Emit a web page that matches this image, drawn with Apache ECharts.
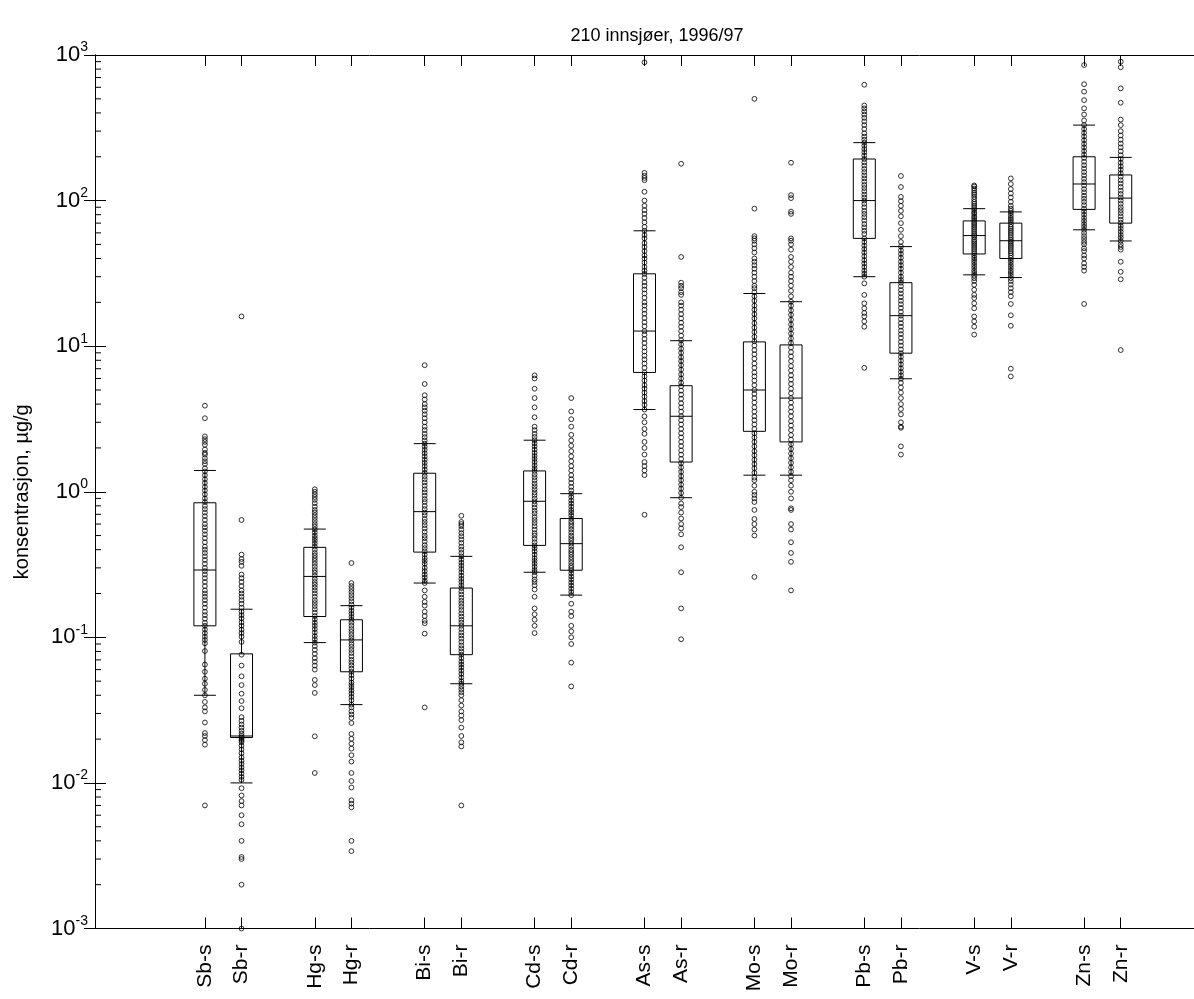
<!DOCTYPE html>
<html>
<head>
<meta charset="utf-8">
<script src="https://cdn.jsdelivr.net/npm/echarts@6/dist/echarts.min.js"></script>
<style>
html, body { margin: 0; padding: 0; background: #fff; }
#container { width: 1194px; height: 999px; }
</style>
</head>
<body>
<div id="container"></div>
<script>
// categories and their positions on the x axis
var names = ['Sb-s', 'Sb-r', 'Hg-s', 'Hg-r', 'Bi-s', 'Bi-r', 'Cd-s', 'Cd-r', 'As-s', 'As-r',
	'Mo-s', 'Mo-r', 'Pb-s', 'Pb-r', 'V-s', 'V-r', 'Zn-s', 'Zn-r'];
var xPos = [3, 4, 6, 7, 9, 10, 12, 13, 15, 16, 18, 19, 21, 22, 24, 25, 27, 28];

// box stats: [lower whisker, Q1, median, Q3, upper whisker]
var boxStats = [
	[0.04, 0.12, 0.29, 0.84, 1.4],
	[0.01, 0.0205, 0.021, 0.077, 0.156],
	[0.092, 0.139, 0.262, 0.415, 0.554],
	[0.0345, 0.058, 0.096, 0.132, 0.165],
	[0.236, 0.385, 0.73, 1.34, 2.14],
	[0.048, 0.076, 0.12, 0.218, 0.36],
	[0.28, 0.428, 0.86, 1.39, 2.26],
	[0.195, 0.289, 0.44, 0.655, 0.97],
	[3.67, 6.6, 12.7, 31.4, 62],
	[0.91, 1.6, 3.3, 5.35, 10.9],
	[1.3, 2.6, 5.0, 10.7, 23],
	[1.3, 2.2, 4.4, 10.2, 20.2],
	[30, 55, 100, 193, 250],
	[5.97, 8.95, 16.2, 27.3, 48.3],
	[30.9, 43, 57.5, 72.5, 88],
	[29.6, 40, 53, 70, 83.6],
	[63, 87, 130, 200, 330],
	[52.8, 70, 104, 150, 198]
];

// individual lake values
var sbS = [3.9, 3.2, 2.4, 2.3, 2.2, 2.1, 1.95, 1.85, 1.8, 1.7, 1.62, 1.55, 1.45, 1.38, 1.3, 1.22, 1.15, 1.08, 1.02, 0.96, 0.9, 0.85, 0.8, 0.76, 0.72, 0.68, 0.64, 0.6, 0.57, 0.54, 0.51, 0.48, 0.45, 0.42, 0.4, 0.38, 0.36, 0.34, 0.32, 0.3, 0.285, 0.27, 0.255, 0.24, 0.225, 0.21, 0.2, 0.19, 0.18, 0.17, 0.16, 0.15, 0.142, 0.134, 0.126, 0.12, 0.113, 0.107, 0.101, 0.096, 0.091, 0.0805, 0.065, 0.058, 0.052, 0.048, 0.0435, 0.04, 0.036, 0.033, 0.031, 0.026, 0.022, 0.021, 0.0197, 0.0183, 0.007];
var sbR = [16, 0.64, 0.37, 0.345, 0.33, 0.31, 0.27, 0.255, 0.24, 0.225, 0.21, 0.2, 0.19, 0.18, 0.17, 0.16, 0.15, 0.142, 0.135, 0.127, 0.12, 0.113, 0.107, 0.101, 0.093, 0.076, 0.064, 0.054, 0.047, 0.041, 0.0365, 0.0326, 0.0283, 0.0267, 0.0252, 0.024, 0.0228, 0.0218, 0.021, 0.0205, 0.02, 0.0195, 0.019, 0.018, 0.017, 0.016, 0.015, 0.0142, 0.0135, 0.0128, 0.0122, 0.0116, 0.011, 0.0105, 0.0092, 0.0082, 0.0075, 0.007, 0.006, 0.0052, 0.004, 0.003, 0.0031, 0.002, 0.001];
var hgS = [1.04, 1.0, 0.96, 0.92, 0.88, 0.835, 0.79, 0.75, 0.72, 0.69, 0.66, 0.63, 0.6, 0.575, 0.55, 0.525, 0.5, 0.48, 0.46, 0.44, 0.42, 0.4, 0.38, 0.365, 0.35, 0.335, 0.32, 0.305, 0.29, 0.278, 0.265, 0.252, 0.24, 0.23, 0.22, 0.21, 0.2, 0.19, 0.18, 0.172, 0.164, 0.156, 0.148, 0.14, 0.133, 0.126, 0.12, 0.114, 0.108, 0.102, 0.097, 0.092, 0.087, 0.082, 0.077, 0.072, 0.068, 0.064, 0.06, 0.051, 0.047, 0.0415, 0.0209, 0.0117];
var hgR = [0.324, 0.236, 0.225, 0.215, 0.205, 0.195, 0.186, 0.177, 0.168, 0.16, 0.152, 0.145, 0.138, 0.132, 0.126, 0.12, 0.114, 0.109, 0.104, 0.099, 0.095, 0.09, 0.086, 0.082, 0.078, 0.074, 0.07, 0.067, 0.064, 0.061, 0.058, 0.055, 0.052, 0.049, 0.047, 0.045, 0.043, 0.041, 0.039, 0.037, 0.0345, 0.033, 0.031, 0.0295, 0.028, 0.0258, 0.0217, 0.0201, 0.0186, 0.0172, 0.0155, 0.014, 0.0117, 0.0103, 0.0093, 0.0076, 0.0072, 0.0068, 0.004, 0.0034];
var biS = [7.4, 5.5, 4.6, 4.3, 4.0, 3.8, 3.6, 3.4, 3.2, 3.0, 2.8, 2.65, 2.5, 2.37, 2.25, 2.14, 2.04, 1.94, 1.84, 1.75, 1.66, 1.58, 1.5, 1.42, 1.35, 1.28, 1.22, 1.16, 1.1, 1.04, 0.99, 0.94, 0.89, 0.85, 0.8, 0.76, 0.72, 0.69, 0.65, 0.62, 0.59, 0.56, 0.53, 0.5, 0.48, 0.455, 0.43, 0.41, 0.39, 0.37, 0.35, 0.335, 0.32, 0.3, 0.285, 0.27, 0.258, 0.245, 0.236, 0.21, 0.19, 0.175, 0.165, 0.15, 0.14, 0.13, 0.125, 0.106, 0.033];
var biR = [0.684, 0.62, 0.6, 0.58, 0.55, 0.52, 0.495, 0.47, 0.445, 0.42, 0.4, 0.38, 0.36, 0.342, 0.325, 0.31, 0.295, 0.28, 0.265, 0.252, 0.24, 0.228, 0.218, 0.207, 0.197, 0.187, 0.178, 0.17, 0.162, 0.154, 0.146, 0.139, 0.132, 0.126, 0.12, 0.114, 0.108, 0.103, 0.098, 0.093, 0.088, 0.084, 0.08, 0.076, 0.072, 0.068, 0.065, 0.062, 0.059, 0.056, 0.053, 0.05, 0.048, 0.046, 0.044, 0.042, 0.04, 0.037, 0.034, 0.031, 0.029, 0.027, 0.024, 0.021, 0.019, 0.0178, 0.007];
var cdS = [6.3, 6.0, 5.1, 4.4, 3.8, 3.25, 2.8, 2.65, 2.5, 2.38, 2.26, 2.15, 2.05, 1.95, 1.85, 1.76, 1.68, 1.6, 1.52, 1.45, 1.39, 1.32, 1.26, 1.2, 1.14, 1.09, 1.04, 0.99, 0.95, 0.9, 0.86, 0.82, 0.78, 0.74, 0.71, 0.67, 0.64, 0.61, 0.58, 0.55, 0.52, 0.5, 0.475, 0.45, 0.428, 0.41, 0.39, 0.37, 0.35, 0.335, 0.32, 0.305, 0.29, 0.28, 0.265, 0.25, 0.24, 0.228, 0.213, 0.19, 0.158, 0.144, 0.132, 0.12, 0.107];
var cdR = [4.4, 3.56, 3.15, 2.8, 2.46, 2.25, 2.07, 1.9, 1.75, 1.62, 1.5, 1.4, 1.3, 1.22, 1.15, 1.08, 1.02, 0.97, 0.92, 0.87, 0.83, 0.79, 0.75, 0.72, 0.69, 0.655, 0.625, 0.6, 0.575, 0.55, 0.525, 0.5, 0.48, 0.46, 0.44, 0.42, 0.4, 0.385, 0.37, 0.355, 0.34, 0.325, 0.31, 0.3, 0.289, 0.275, 0.262, 0.25, 0.238, 0.227, 0.216, 0.205, 0.195, 0.17, 0.15, 0.14, 0.12, 0.11, 0.1, 0.09, 0.067, 0.046];
var asS = [891, 155, 148, 143, 138, 115, 100, 92, 86, 81, 76, 71, 66, 62, 58, 55, 51, 48, 45, 42, 40, 37.5, 35, 33, 31.4, 29.5, 27.5, 26, 24.5, 23, 21.5, 20, 19, 17.8, 16.7, 15.6, 14.6, 13.7, 12.7, 12, 11.2, 10.5, 9.8, 9.2, 8.6, 8.1, 7.6, 7.1, 6.6, 6.2, 5.8, 5.4, 5.1, 4.8, 4.5, 4.2, 3.95, 3.67, 3.3, 3.0, 2.7, 2.5, 2.2, 2.0, 1.8, 1.6, 1.5, 1.4, 1.3, 0.695];
var asR = [179, 41, 27.3, 26, 25, 23.5, 22.5, 20, 19, 17.8, 16.6, 15.5, 14.5, 13.6, 12.7, 11.8, 11, 10.3, 9.6, 9, 8.4, 7.9, 7.4, 6.9, 6.4, 6, 5.6, 5.3, 4.95, 4.65, 4.35, 4.05, 3.8, 3.55, 3.3, 3.1, 2.9, 2.7, 2.52, 2.36, 2.2, 2.06, 1.92, 1.8, 1.68, 1.57, 1.47, 1.37, 1.28, 1.2, 1.12, 1.05, 0.98, 0.91, 0.83, 0.785, 0.72, 0.655, 0.6, 0.56, 0.51, 0.416, 0.28, 0.158, 0.097];
var moS = [500, 88, 57, 55, 53, 50, 47, 44, 40, 38, 36, 34, 32, 30, 28, 26, 25, 23.5, 22, 20.5, 19, 17.8, 16.6, 15.5, 14.4, 13.4, 12.5, 11.6, 10.8, 10.1, 9.4, 8.8, 8.2, 7.6, 7.1, 6.6, 6.2, 5.8, 5.4, 5, 4.7, 4.4, 4.1, 3.8, 3.55, 3.3, 3.1, 2.9, 2.7, 2.52, 2.36, 2.2, 2.05, 1.9, 1.78, 1.66, 1.55, 1.45, 1.35, 1.25, 1.2, 1.1, 1.0, 0.95, 0.9, 0.85, 0.75, 0.65, 0.6, 0.55, 0.5, 0.26];
var moR = [182, 109, 104, 84, 81, 55, 53, 50, 46, 41, 38, 35, 32, 30, 28, 26, 24, 22, 20.2, 19, 17.6, 16.4, 15.2, 14.1, 13.1, 12.2, 11.3, 10.5, 9.8, 9.1, 8.5, 7.9, 7.3, 6.8, 6.3, 5.9, 5.5, 5.1, 4.75, 4.4, 4.1, 3.8, 3.55, 3.3, 3.05, 2.85, 2.65, 2.45, 2.28, 2.12, 1.97, 1.83, 1.7, 1.58, 1.47, 1.37, 1.28, 1.2, 1.1, 1.0, 0.9, 0.77, 0.75, 0.6, 0.55, 0.45, 0.38, 0.33, 0.21];
var pbS = [625, 450, 430, 410, 390, 370, 350, 330, 310, 290, 275, 262, 250, 238, 226, 215, 204, 193, 183, 174, 165, 157, 149, 142, 135, 128, 122, 116, 110, 105, 100, 95, 90, 85, 81, 77, 73, 69, 65.5, 62, 59, 55, 52, 49, 46.5, 44, 41.5, 39, 37, 35, 33, 31.5, 30, 27, 22.5, 19.7, 18.2, 16.9, 16, 14.8, 13.6, 7.1];
var pbR = [147.6, 124, 106, 99, 92, 85, 78, 70, 63, 57, 52, 48.3, 45.5, 43, 40.5, 38, 36, 34, 32, 30, 28.5, 27.3, 25.8, 24.3, 23, 21.7, 20.5, 19.4, 18.3, 17.2, 16.2, 15.3, 14.4, 13.6, 12.8, 12.1, 11.4, 10.7, 10.1, 9.5, 8.95, 8.45, 7.95, 7.5, 7.05, 6.65, 6.3, 5.97, 5.6, 5.2, 4.8, 4.4, 4.0, 3.7, 3.4, 3.0, 2.8, 2.75, 2.05, 1.8];
var vS = [127, 125, 121, 117, 113, 110, 106, 102, 98, 95, 92, 89, 86, 83, 81, 78, 76, 73.5, 71, 69, 67, 65, 63, 61, 59, 57.5, 56, 54, 52.5, 51, 49.5, 48, 46.5, 45, 43.5, 42, 40.5, 39, 37.5, 36, 34.5, 33, 31.8, 30.5, 29.3, 28, 26.4, 24.4, 22.5, 21.4, 19.7, 18.2, 16, 14.8, 13.6, 12];
var vR = [142, 130, 120, 112, 105, 98, 92, 88, 85, 82, 79, 76, 73.5, 71, 68.5, 66, 64, 62, 60, 58, 56, 54, 52.5, 51, 49.5, 48, 46.5, 45, 43.5, 42, 40.5, 39, 37.5, 36, 34.5, 33, 31.8, 30.5, 29.3, 28, 26.5, 25, 23.5, 22, 19.5, 16.3, 13.8, 7, 6.2];
var znS = [853, 630, 560, 490, 430, 390, 355, 330, 310, 292, 276, 260, 245, 232, 219, 207, 196, 185, 175, 166, 157, 149, 141, 134, 127, 120, 114, 108, 103, 98, 93, 88, 84, 80, 76, 72.5, 69, 66, 63, 60, 57, 54.5, 52, 50, 47, 45, 42, 40, 37, 35, 33, 19.5];
var znR = [900, 824, 590, 470, 360, 330, 300, 280, 262, 246, 232, 218, 205, 193, 182, 172, 163, 154, 146, 138, 131, 124, 117, 111, 105, 100, 95, 90, 86, 82, 78, 74, 70.5, 67, 64, 61, 58, 55.5, 52.8, 50, 48, 46, 38, 32.4, 28.8, 9.4];

var allPoints = [sbS, sbR, hgS, hgR, biS, biR, cdS, cdR, asS, asR, moS, moR, pbS, pbR, vS, vR, znS, znR];

var font = 'Liberation Sans, Arial, Helvetica, sans-serif';

// minor log ticks 2..9 in each decade
var minorTicks = [];
for (var e = -3; e < 3; e++) {
	for (var m = 2; m <= 9; m++) minorTicks.push(m * Math.pow(10, e));
}

var boxData = boxStats.map(function(s, i) {
	return [xPos[i]].concat(s);
});
var pointData = [];
allPoints.forEach(function(arr, i) {
	arr.forEach(function(v) { pointData.push([xPos[i], v]); });
});

var myChart = echarts.init(document.getElementById('container'));
var option = {
	animation: false,
	backgroundColor: '#fff',
	title: {
		text: '210 innsjøer, 1996/97',
		left: 652, top: 22, textAlign: 'center',
		textStyle: { fontFamily: font, fontSize: 18, fontWeight: 'normal', color: '#000' }
	},
	grid: { left: 95, top: 55, width: 1108, height: 873.5 },
	xAxis: [
		{
			type: 'value', min: 0, max: 30, position: 'bottom',
			axisLine: { lineStyle: { color: '#000', width: 1 } },
			axisTick: { inside: true, length: 11, customValues: xPos, lineStyle: { color: '#000' } },
			axisLabel: {
				customValues: xPos, rotate: 90, margin: 16,
				fontFamily: font, fontSize: 21, color: '#000',
				formatter: function(v) { return names[xPos.indexOf(v)] || ''; }
			},
			splitLine: { show: false }
		},
		{
			type: 'value', min: 0, max: 30, position: 'top',
			axisLine: { lineStyle: { color: '#000', width: 1 } },
			axisTick: { inside: true, length: 11, customValues: xPos, lineStyle: { color: '#000' } },
			axisLabel: { show: false },
			splitLine: { show: false }
		}
	],
	yAxis: [
		{
			type: 'log', logBase: 10, min: 0.001, max: 1000,
			name: 'konsentrasjon, µg/g', nameLocation: 'middle', nameGap: 63,
			nameTextStyle: { fontFamily: font, fontSize: 20, color: '#000' },
			axisLine: { lineStyle: { color: '#000', width: 1 } },
			axisTick: { inside: true, length: 11, lineStyle: { color: '#000' } },
			axisLabel: {
				margin: 7, color: '#000',
				formatter: function(v) {
					var p = Math.round(Math.log(v) / Math.LN10);
					return '{b|10}{e|' + p + '}';
				},
				rich: {
					b: { fontFamily: font, fontSize: 22, color: '#000', lineHeight: 26 },
					e: { fontFamily: font, fontSize: 14, color: '#000', padding: [0, 0, 15, 0] }
				}
			},
			splitLine: { show: false }
		},
		{
			type: 'log', logBase: 10, min: 0.001, max: 1000, position: 'right',
			axisLine: { lineStyle: { color: '#000', width: 1 } },
			axisTick: { inside: true, length: 11, lineStyle: { color: '#000' } },
			axisLabel: { show: false },
			splitLine: { show: false }
		}
	],
	series: [
		{
			type: 'custom',
			silent: true,
			data: minorTicks.map(function(v) { return [0, v]; }),
			renderItem: function(params, api) {
				var p = api.coord([0, api.value(1)]);
				return {
					type: 'line',
					shape: { x1: p[0], y1: p[1], x2: p[0] + 6, y2: p[1] },
					style: { stroke: '#000', lineWidth: 1 }
				};
			}
		},
		{
			type: 'boxplot',
			silent: true,
			boxWidth: [22, 22],
			itemStyle: { color: 'rgba(0,0,0,0)', borderColor: '#000', borderWidth: 1 },
			data: boxData
		},
		{
			type: 'scatter',
			silent: true,
			symbol: 'circle',
			symbolSize: 4.8,
			itemStyle: { color: 'rgba(0,0,0,0)', borderColor: '#000', borderWidth: 1 },
			data: pointData
		}
	]
};
myChart.setOption(option);
</script>
</body>
</html>
